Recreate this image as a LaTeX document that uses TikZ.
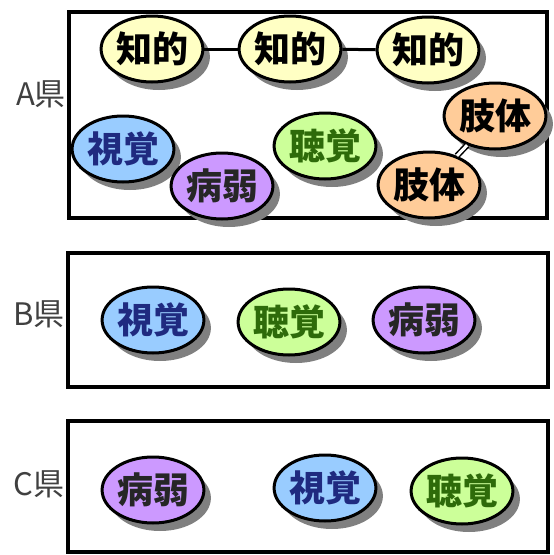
\documentclass[tikz,border=0pt]{standalone}
\usepackage{fontspec}
\newfontfamily\cjk{Noto Sans CJK JP}
\usetikzlibrary{shapes.geometric,shadows}
\definecolor{yel}{HTML}{FFFFC4}
\definecolor{blu}{HTML}{99CCFF}
\definecolor{pur}{HTML}{CC99FF}
\definecolor{grn}{HTML}{CCFF99}
\definecolor{org}{HTML}{FFCC99}
\definecolor{navy}{HTML}{1F2A80}
\definecolor{dgrn}{HTML}{2E6B0A}
\tikzset{
  blob/.style={ellipse, draw=black, line width=3pt, minimum width=100pt, minimum height=66pt, inner sep=0pt,
    font=\cjk\bfseries\fontsize{36}{36}\selectfont,
    drop shadow={shadow xshift=7pt, shadow yshift=-8pt, fill=black!50, opacity=1}},
  chiteki/.style={blob, fill=yel, text=black},
  shikaku/.style={blob, fill=blu, text=navy},
  byoujaku/.style={blob, fill=pur, text=black!85},
  choukaku/.style={blob, fill=grn, text=dgrn},
  shitai/.style={blob, fill=org, text=black},
  frame/.style={draw=black, line width=3.5pt},
  pref/.style={font=\cjk\fontsize{31}{31}\selectfont, text=black!75, inner sep=0pt},
  link/.style={draw=black, line width=3pt}
}
\begin{document}
\begin{tikzpicture}[x=1pt,y=1pt]
\useasboundingbox (0,0) rectangle (554,-555);
% frames
\draw[frame] (69,-12) rectangle (547,-218);
\draw[frame] (68,-253) rectangle (548,-387);
\draw[frame] (68,-421) rectangle (548,-552);
% labels
\node[pref] (la) at (41,-94) {A県};
\node[pref] (lb) at (39,-314) {B県};
\node[pref] (lc) at (39,-484) {C県};
% A
\node[chiteki] (c1) at (152,-49) {知的};
\node[chiteki] (c2) at (290,-49) {知的};
\node[chiteki] (c3) at (428,-50) {知的};
\node[shikaku] (a1) at (123,-149) {視覚};
\node[byoujaku] (a2) at (222,-186) {病弱};
\node[choukaku] (a3) at (325,-146) {聴覚};
\node[shitai] (s1) at (495,-116) {肢体};
\node[shitai] (s2) at (429,-185) {肢体};
\draw[link] (c1) -- (c2);
\draw[link] (c2) -- (c3);
\draw[draw=black, line width=1.5pt, double=white, double distance=3pt] (s2) -- (s1);
% B
\node[shikaku] (b1) at (153,-320) {視覚};
\node[choukaku] (b2) at (289,-322) {聴覚};
\node[byoujaku] (b3) at (424,-320) {病弱};
% C
\node[byoujaku] (d1) at (153,-490) {病弱};
\node[shikaku] (d2) at (325,-488) {視覚};
\node[choukaku] (d3) at (462,-491) {聴覚};
\end{tikzpicture}
\end{document}
